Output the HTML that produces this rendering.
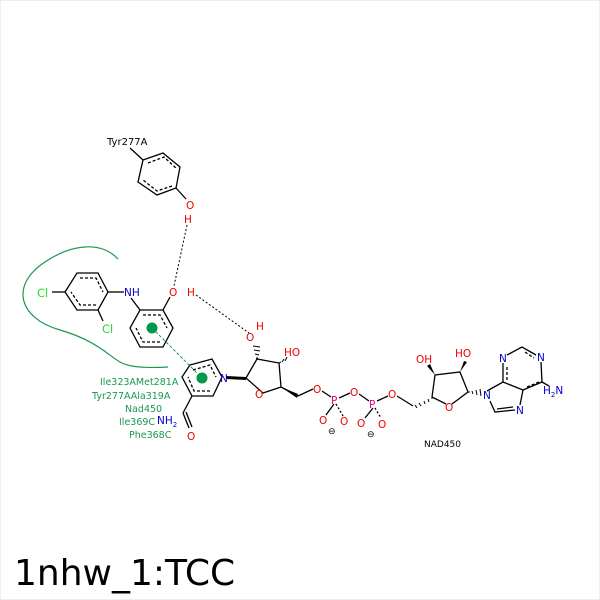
<!DOCTYPE html>
<html><head><style>body{margin:0;background:#fff}svg{display:block}</style></head><body>
<svg width="600" height="600" viewBox="0 0 600 600" xmlns="http://www.w3.org/2000/svg" font-family="DejaVu Sans, Liberation Sans, sans-serif">
<rect x="0.5" y="0.5" width="599" height="599" fill="#fff" stroke="#eee"/>
<g stroke="#000" stroke-width="1.3" fill="none">
<!-- Tyr -->
<line x1="130" y1="148" x2="143" y2="160"/>
<polygon points="143,160 163,153 180,167 176,188 157,195 138,182"/>
<polyline points="148,163 164,157 176,168" stroke-dasharray="3,2"/>
<polyline points="172,186 157,191 143,180" stroke-dasharray="3,2"/>
<line x1="176" y1="188" x2="186" y2="199"/>
<!-- ligand left ring -->
<polygon points="77,273 98,273 108,292 98,310 77,310 65,292"/>
<polyline points="80,278 96,278 103,292" stroke-dasharray="3,2"/>
<polyline points="96,305 80,305 71,292" stroke-dasharray="3,2"/>
<line x1="65" y1="292" x2="52" y2="292"/>
<line x1="98" y1="310" x2="103" y2="321"/>
<line x1="108" y1="292" x2="124" y2="292"/>
<!-- phenol ring -->
<polygon points="140,310 163,310 173,328 163,347 140,347 130,328"/>
<polyline points="143,315 160,315 167,328" stroke-dasharray="3,2"/>
<polyline points="160,342 143,342 136,328" stroke-dasharray="3,2"/>
<line x1="140" y1="310" x2="131" y2="298"/>
<line x1="163" y1="310" x2="170" y2="297"/>
<!-- pyridine -->
<polygon points="190,365 212,359 222,377 213,396 192,396 182,377"/>
<polyline points="193,370 210,365 216,377" stroke-dasharray="3,2"/>
<polyline points="210,391 194,391 188,377" stroke-dasharray="3,2"/>
<line x1="192" y1="396" x2="183" y2="413"/>
<line x1="183" y1="413" x2="189" y2="428"/>
<line x1="186" y1="412" x2="192" y2="427"/>
<!-- ribose 1 -->
<polyline points="246,378 257,359 279,363 281,387 263,393 246,378"/>
<line x1="281" y1="387" x2="298" y2="396"/>
<line x1="298" y1="396" x2="313" y2="389"/>
<line x1="322" y1="391" x2="331" y2="397"/>
<line x1="339" y1="398" x2="350" y2="393"/>
<line x1="359" y1="394" x2="369" y2="401"/>
<line x1="377" y1="401" x2="388" y2="396"/>
<line x1="397" y1="396" x2="413" y2="406"/>
<!-- ribose 2 -->
<polyline points="432,397 435,375 460,372 468,392 452,404"/>
<line x1="446" y1="404" x2="432" y2="397"/>
<!-- purine -->
<polyline points="490,401 495,412 515,410"/>
<line x1="497" y1="409" x2="513" y2="407"/>
<polyline points="487,391 503,382 523,390 520,405"/>
<line x1="503" y1="382" x2="503" y2="363"/>
<polyline points="507,355 522,347 536,355"/>
<line x1="541" y1="362" x2="542" y2="382"/>
<line x1="542" y1="382" x2="523" y2="390"/>
<line x1="542" y1="382" x2="549" y2="386"/>
<line x1="507" y1="380" x2="507" y2="365" stroke-dasharray="3,2"/>
<line x1="525" y1="352" x2="534" y2="358" stroke-dasharray="3,2"/>
<line x1="527" y1="387" x2="539" y2="382" stroke-dasharray="3,2"/>
<!-- P oxygens -->
<line x1="334" y1="404" x2="326" y2="415"/>
<line x1="336" y1="404" x2="343" y2="416" stroke-dasharray="2,2"/>
<line x1="373" y1="408" x2="365" y2="418"/>
<line x1="375" y1="408" x2="381" y2="418" stroke-dasharray="2,2"/>
</g>
<!-- wedges / hashes -->
<polygon points="226,376 246,377 246,380 226,379" fill="#000"/>
<polygon points="281,387 298,394 297,398" fill="#000"/>
<g stroke="#000" stroke-width="1" >
<line x1="256" y1="358" x2="258" y2="358"/><line x1="255" y1="354" x2="259" y2="355"/><line x1="254" y1="350" x2="260" y2="351"/><line x1="253" y1="346" x2="260" y2="347"/>
<line x1="279" y1="363" x2="281" y2="362"/><line x1="282" y1="362" x2="284" y2="359"/><line x1="285" y1="361" x2="287" y2="357"/>
<line x1="432" y1="397" x2="432" y2="399"/><line x1="428" y1="399" x2="429" y2="402"/><line x1="424" y1="401" x2="425" y2="404"/><line x1="419" y1="403" x2="421" y2="406"/><line x1="415" y1="405" x2="417" y2="408"/>
<line x1="468" y1="392" x2="470" y2="392"/><line x1="472" y1="391" x2="473" y2="394"/><line x1="476" y1="390" x2="477" y2="395"/><line x1="480" y1="389" x2="481" y2="396"/>
</g>
<polygon points="435,375 430,364 427,366" fill="#000"/>
<polygon points="460,372 464,361 467,362" fill="#000"/>
<!-- hbonds -->
<g stroke="#000" stroke-width="1" stroke-dasharray="2,2" fill="none">
<line x1="187" y1="225" x2="174" y2="286"/>
<line x1="196" y1="295" x2="249" y2="333"/>
</g>
<!-- green -->
<path d="M118,259 C100,240 70,245 45,262 C10,285 18,318 60,330 C95,340 108,355 120,362 C130,368 150,368 168,367" stroke="#1a9850" stroke-width="1.2" fill="none"/>
<line x1="152" y1="328" x2="202" y2="378" stroke="#1a9850" stroke-width="1" stroke-dasharray="3,2"/>
<circle cx="152" cy="328" r="5.5" fill="#00994c"/>
<circle cx="202" cy="378" r="5.5" fill="#00994c"/>
<g font-size="10.5">
<text x="107" y="145" fill="#000" font-size="10">Tyr277A</text>
<text x="186" y="209" fill="#e00">O</text>
<text x="184" y="223" fill="#e00">H</text>
<text x="37" y="297" fill="#22dd22" font-size="11.5">Cl</text>
<text x="102" y="333" fill="#22dd22" font-size="11.5">Cl</text>
<text x="124" y="296" fill="#00c">NH</text>
<text x="169" y="296" fill="#e00">O</text>
<text x="187" y="296" fill="#e00">H</text>
<text x="220" y="382" fill="#00c">N</text>
<text x="157" y="424" fill="#00c">NH<tspan font-size="7" dy="3">2</tspan></text>
<text x="187" y="440" fill="#e00">O</text>
<text x="246" y="341" fill="#e00">O</text>
<text x="256" y="330" fill="#e00">H</text>
<text x="284" y="356" fill="#e00">HO</text>
<text x="255" y="398" fill="#e00">O</text>
<text x="313" y="393" fill="#e00">O</text>
<text x="331" y="404" fill="#e0007f">P</text>
<text x="350" y="396" fill="#e00">O</text>
<text x="369" y="408" fill="#e0007f">P</text>
<text x="388" y="398" fill="#e00">O</text>
<text x="319" y="424" fill="#e00">O</text>
<text x="340" y="425" fill="#e00">O</text>
<text x="357" y="427" fill="#e00">O</text>
<text x="378" y="428" fill="#e00">O</text>
<text x="328" y="434" fill="#000" font-size="9">⊖</text>
<text x="367" y="437" fill="#000" font-size="9">⊖</text>
<text x="416" y="363" fill="#e00">OH</text>
<text x="455" y="357" fill="#e00">HO</text>
<text x="445" y="411" fill="#e00">O</text>
<text x="483" y="399" fill="#00c">N</text>
<text x="516" y="414" fill="#00c">N</text>
<text x="499" y="362" fill="#00c">N</text>
<text x="537" y="361" fill="#00c">N</text>
<text x="543" y="394" fill="#00c">H<tspan font-size="7" dy="3">2</tspan><tspan dy="-3">N</tspan></text>
<text x="424" y="447" fill="#000" font-size="9">NAD450</text>
</g>
<g font-size="9.5" fill="#1a9850">
<text x="100" y="385">Ile323AMet281A</text>
<text x="92" y="399">Tyr277AAla319A</text>
<text x="125" y="412">Nad450</text>
<text x="119" y="425">Ile369C</text>
<text x="129" y="438">Phe368C</text>
</g>
<text x="14" y="585" font-size="36" fill="#000">1nhw_1:TCC</text>
</svg>
</body></html>
